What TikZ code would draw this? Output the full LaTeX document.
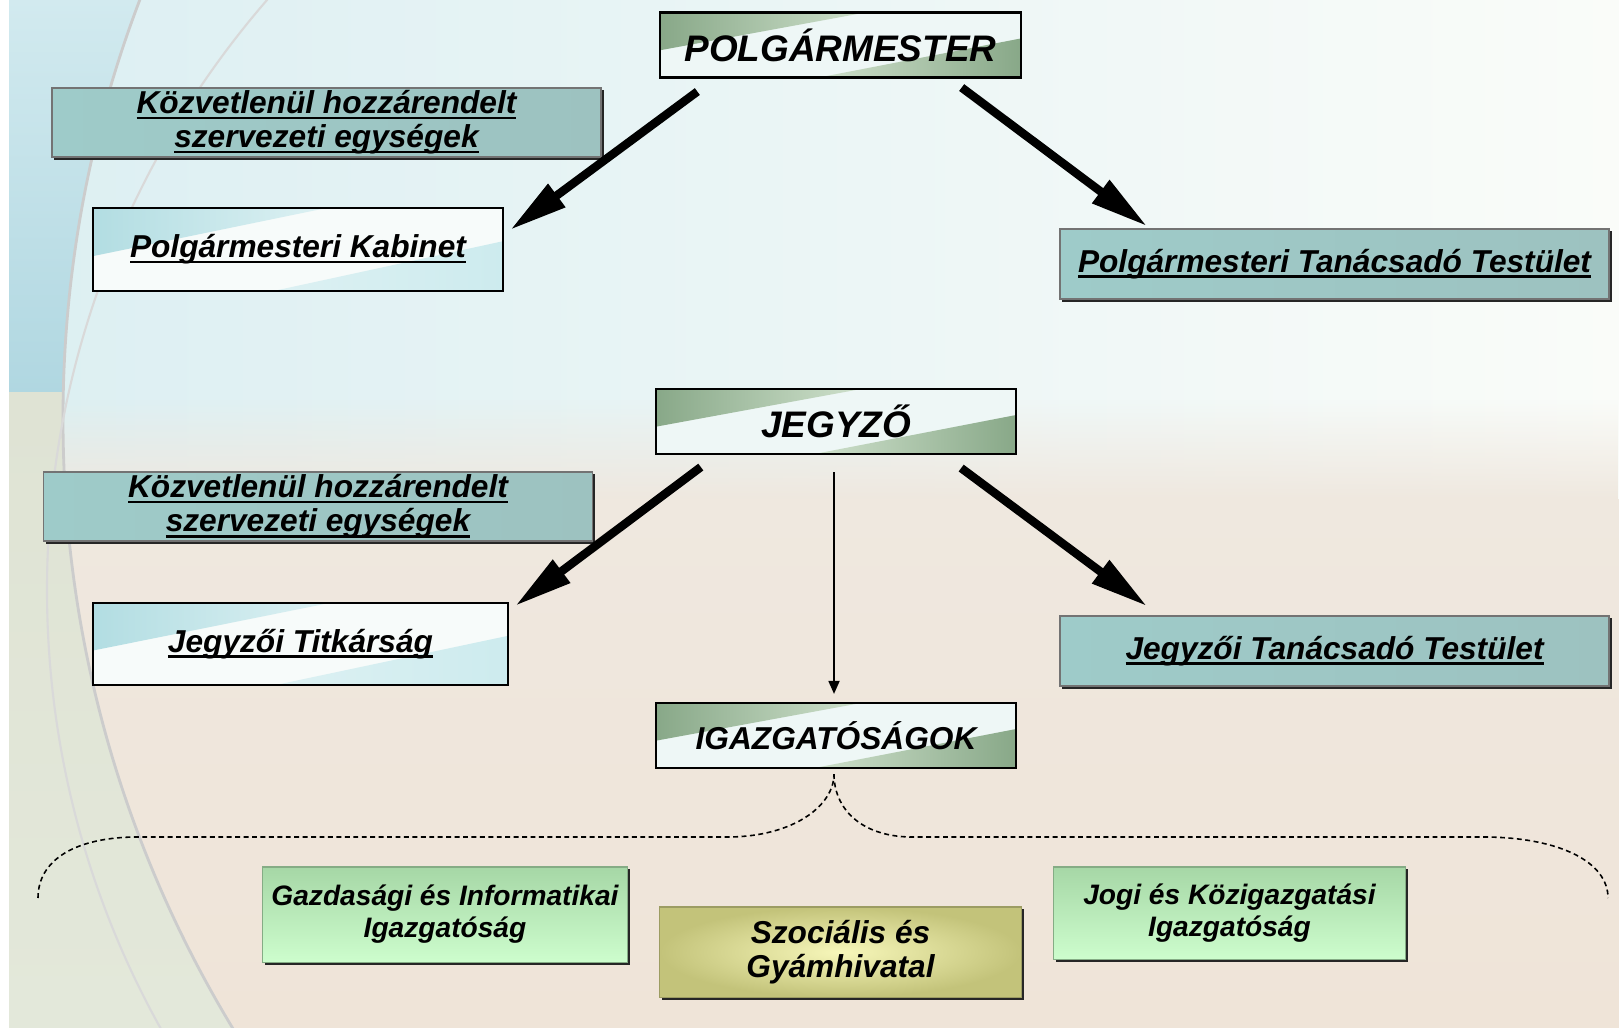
\documentclass[tikz,border=0pt]{standalone}
\usepackage{fontspec}
\setmainfont{Liberation Sans}
\usetikzlibrary{arrows.meta,shadows,fadings,calc}

\definecolor{sheendark}{HTML}{88A888}
\definecolor{sheenlight}{HTML}{CFE1CC}
\definecolor{paleface}{HTML}{EEF7F6}
\definecolor{cabtop}{HTML}{B2DDE2}
\definecolor{cablight}{HTML}{DDF1F3}
\definecolor{cabbot}{HTML}{CDEBEE}
\definecolor{cabface}{HTML}{F7FBFA}
\definecolor{tealL}{HTML}{9ECBC9}
\definecolor{tealM}{HTML}{C9ECEC}
\definecolor{tealR}{HTML}{9DC2C0}
\definecolor{greenT}{HTML}{A6D7A6}
\definecolor{greenB}{HTML}{CDFDCD}
\definecolor{oliveO}{HTML}{C3C37A}
\definecolor{oliveI}{HTML}{F7F7BA}
\definecolor{bgcyan}{HTML}{DCEFF2}
\definecolor{bgwhite}{HTML}{FAFCF9}
\definecolor{bgbeige}{HTML}{EFE8DF}
\definecolor{bgbeigeB}{HTML}{EFE4D8}
\definecolor{sideblue}{HTML}{D2EAEF}
\definecolor{sideblueB}{HTML}{B0D7E1}
\definecolor{sidegray}{HTML}{DFE3D4}
\definecolor{sidegrayB}{HTML}{E3E8DA}

\tikzfading[name=fadeup, top color=transparent!100, bottom color=transparent!0]

\newcommand{\ulbox}[1]{\setbox0\hbox{#1}\rlap{\rule[-1.6pt]{\wd0}{0.7pt}}\box0}

\tikzset{
  % reflets en coin (haut gauche, bas droite)
  sheen/.style n args={3}{path picture={
    \coordinate (pnw) at (path picture bounding box.north west);
    \coordinate (pne) at (path picture bounding box.north east);
    \coordinate (psw) at (path picture bounding box.south west);
    \coordinate (pse) at (path picture bounding box.south east);
    \shade[left color=#1, right color=#2] (pnw) -- ($(pnw)!0.57!(pne)$) -- ($(pnw)!0.58!(psw)$) -- cycle;
    \shade[left color=#2, right color=#3] (pse) -- ($(pse)!0.56!(psw)$) -- ($(pse)!0.6!(pne)$) -- cycle;
  }},
  headbox/.style={draw=black, line width=0.6pt, fill=paleface, sheen={sheendark}{sheenlight}{sheendark},
    minimum width=3.6cm, minimum height=0.65cm, inner sep=0pt,
    font=\fontsize{10.5}{12}\selectfont\bfseries\itshape},
  cabbox/.style={draw=black, line width=0.6pt, fill=cabface, sheen={cabtop}{cablight}{cabbot},
    inner sep=0pt, font=\fontsize{9}{9.7}\selectfont\bfseries\itshape},
  tealbox/.style={draw=black!55, line width=0.4pt, left color=tealL, middle color=tealM, right color=tealR,
    drop shadow={shadow xshift=0.025cm, shadow yshift=-0.025cm, opacity=1, fill=black!85},
    minimum width=5.49cm, minimum height=0.69cm, inner sep=0pt, align=center,
    font=\fontsize{9}{9.7}\selectfont\bfseries\itshape},
  greenbox/.style={draw=greenT!80!black, line width=0.3pt, top color=greenT, bottom color=greenB,
    drop shadow={shadow xshift=0.025cm, shadow yshift=-0.025cm, opacity=1, fill=black!85},
    inner sep=0pt, align=center, font=\fontsize{8}{9.1}\selectfont\bfseries\itshape},
  olivebox/.style={draw=oliveO!80!black, line width=0.3pt, inner color=oliveI, outer color=oliveO,
    drop shadow={shadow xshift=0.025cm, shadow yshift=-0.025cm, opacity=1, fill=black!85},
    inner sep=0pt, align=center, font=\fontsize{9}{9.7}\selectfont\bfseries\itshape},
  bigarrow/.style={-{Triangle[length=0.58cm,width=0.27cm]}, line width=2.4pt},
  thinarrow/.style={-{Triangle[length=0.13cm,width=0.11cm]}, line width=0.5pt},
  bracket/.style={dash pattern=on 1.4pt off 1pt, line width=0.45pt}
}

\begin{document}
\begin{tikzpicture}[x=0.01cm, y=-0.01cm]
\useasboundingbox (0,0) rectangle (1619,1028);
% Fond
\shade[top color=sideblue, bottom color=sideblueB] (0,0) rectangle (1619,393);
\shade[top color=sidegray, bottom color=sidegrayB] (0,393) rectangle (1619,1028);
\begin{scope}
  \clip (1240,419) circle (1177);
  \shade[left color=bgcyan, right color=bgwhite] (0,0) rectangle (1619,1028);
  \fill[bgbeige, path fading=fadeup] (0,400) rectangle (1619,500);
  \shade[top color=bgbeige, bottom color=bgbeigeB] (0,500) rectangle (1619,1028);
\end{scope}
\draw[gray!40, line width=0.8pt] (1240,419) circle (1177);
\draw[gray!30, line width=0.6pt] (948,590) circle (901);
\fill[white] (0,0) rectangle (9,1028);

% Boîtes
\node[headbox] (polg) at (840.5,45) {POLGÁRMESTER};
\node[tealbox] (kozv1) at (326.5,122.5) {\ulbox{Közvetlenül hozzárendelt}\\\ulbox{szervezeti egységek}};
\node[cabbox, minimum width=4.1cm, minimum height=0.83cm] (kab) at (298,249.5) {\ulbox{Polgármesteri Kabinet}};
\node[tealbox, minimum height=0.7cm] (ptt) at (1334.5,264) {\ulbox{Polgármesteri Tanácsadó Testület}};
\node[headbox] (jegy) at (836,421.5) {JEGYZŐ};
\node[tealbox] (kozv2) at (318,506.5) {\ulbox{Közvetlenül hozzárendelt}\\\ulbox{szervezeti egységek}};
\node[cabbox, minimum width=4.15cm, minimum height=0.82cm] (titk) at (300.5,644) {\ulbox{Jegyzői Titkárság}};
\node[tealbox, minimum height=0.7cm] (jtt) at (1334.5,651) {\ulbox{Jegyzői Tanácsadó Testület}};
\node[headbox, font=\fontsize{9}{11}\selectfont\bfseries\itshape] (igaz) at (836,735.5) {IGAZGATÓSÁGOK};
\node[greenbox, minimum width=3.64cm, minimum height=0.95cm] (gazd) at (445,914.5) {Gazdasági és Informatikai\\Igazgatóság};
\node[olivebox, minimum width=3.61cm, minimum height=0.9cm] (szoc) at (840.5,952) {Szociális és\\Gyámhivatal};
\node[greenbox, minimum width=3.51cm, minimum height=0.92cm] (jogi) at (1229.5,913) {Jogi és Közigazgatási\\Igazgatóság};

% Flèches
\draw[bigarrow] ([shift={(38,13)}]polg.south west) -- ([shift={(6,23)}]kab.north east);
\draw[bigarrow] ([shift={(-60,9)}]polg.south east) -- ([shift={(88,-2)}]ptt.north west);
\draw[bigarrow] ([shift={(46,12)}]jegy.south west) -- ([shift={(6,4)}]titk.north east);
\draw[bigarrow] ([shift={(-56,13)}]jegy.south east) -- ([shift={(88,-9)}]jtt.north west);
\draw[thinarrow] ([shift={(-2,17)}]jegy.south) -- ([shift={(-2,-8)}]igaz.north);

% Accolade
\coordinate (bl) at (38,898);
\coordinate (br) at (1608,898);
\draw[bracket] (bl) .. controls (38,860) and (75,838) .. (134,837) -- (730,837)
  .. controls (795,836) and (834,805) .. ([shift={(-2,5)}]igaz.south);
\draw[bracket] ([shift={(-2,5)}]igaz.south) .. controls (834,808) and (860,836) .. (910,837)
  -- (1487,837) .. controls (1560,838) and (1608,862) .. (br);
\end{tikzpicture}
\end{document}
